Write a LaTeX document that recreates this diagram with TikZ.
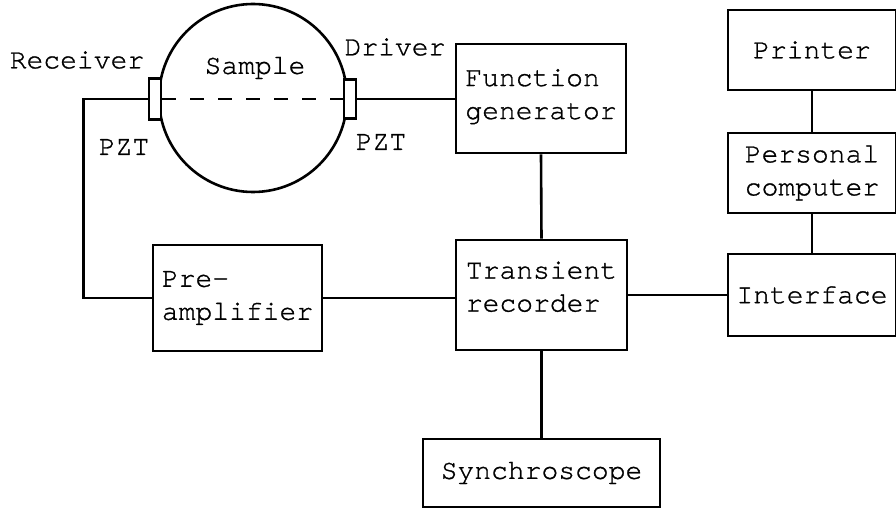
\documentclass[tikz,border=0pt]{standalone}
\usepackage{fontspec}
\setmonofont{TeX Gyre Cursor}[Ligatures=NoCommon,FakeBold=1]
\usepackage{tikz}

\begin{document}
\begin{tikzpicture}[x=0.5pt,y=-0.5pt,
    unit/.style={draw,thick,line width=1.3pt,rectangle,align=left,
      inner sep=0pt,font=\ttfamily\fontsize{14}{16.5}\selectfont},
    pzt/.style={draw,line width=1.3pt,rectangle,fill=white,inner sep=0pt,
      minimum width=6pt},
    lbl/.style={font=\ttfamily\fontsize{14}{16.5}\selectfont,inner sep=0pt},
    wire/.style={line width=1.3pt}]
    \useasboundingbox (0,0) rectangle (896,508);

    % Draw sample with the two transducers
    \node[draw,circle,line width=1.3pt,minimum size=94pt,inner sep=0pt]
      (sample) at (253,98) {};
    \node[pzt,minimum height=20.5pt] (rcv) at (155,99) {};
    \node[pzt,minimum height=19.5pt] (drv) at (350,99) {};
    \draw[wire,dash pattern=on 7pt off 7pt] (rcv.east) -- (drv.west);

    % Labels round the sample
    \node[lbl] (samplelbl) at (255,68) {Sample};
    \node[lbl] (rcvlbl) at (77,60) {Receiver};
    \node[lbl] (drvlbl) at (395,47) {Driver};
    \node[lbl] (rcvpzt) at (124,147) {PZT};
    \node[lbl] (drvpzt) at (381,142) {PZT};

    % Measuring units
    \node[unit,minimum width=85pt,minimum height=54.5pt]
      (fgen) at (541,98.5) {Function\\generator\\[-12pt]};
    \node[unit,minimum width=84.5pt,minimum height=53pt]
      (pre) at (237.5,298) {Pre-\\amplifier};
    \node[unit,minimum width=85.5pt,minimum height=55pt]
      (trans) at (541.5,295) {Transient\\recorder\\[-8pt]};
    \node[unit,minimum width=118.5pt,minimum height=34pt]
      (sync) at (541.5,473) {Synchroscope};

    % Computer side
    \node[unit,minimum width=84pt,minimum height=40pt]
      (printer) at (812,50) {Printer};
    \node[unit,minimum width=84pt,minimum height=40pt]
      (pc) at (812,173) {Personal\\computer};
    \node[unit,minimum width=84pt,minimum height=41pt]
      (intf) at (812,295) {Interface};

    % Wiring
    \draw[wire] (rcv.west) -- ++(-64,0) |- (pre.west);
    \draw[wire] (drv.east) -- (drv.east -| fgen.west);
    \draw[wire] (pre.east) -- (pre.east -| trans.west);
    \draw[wire] (fgen.south) -- (trans.north);
    \draw[wire] (trans.south) -- (sync.north);
    \draw[wire] (trans.east) -- (trans.east -| intf.west);
    \draw[wire] (printer.south) -- (pc.north);
    \draw[wire] (pc.south) -- (intf.north);
\end{tikzpicture}
\end{document}
